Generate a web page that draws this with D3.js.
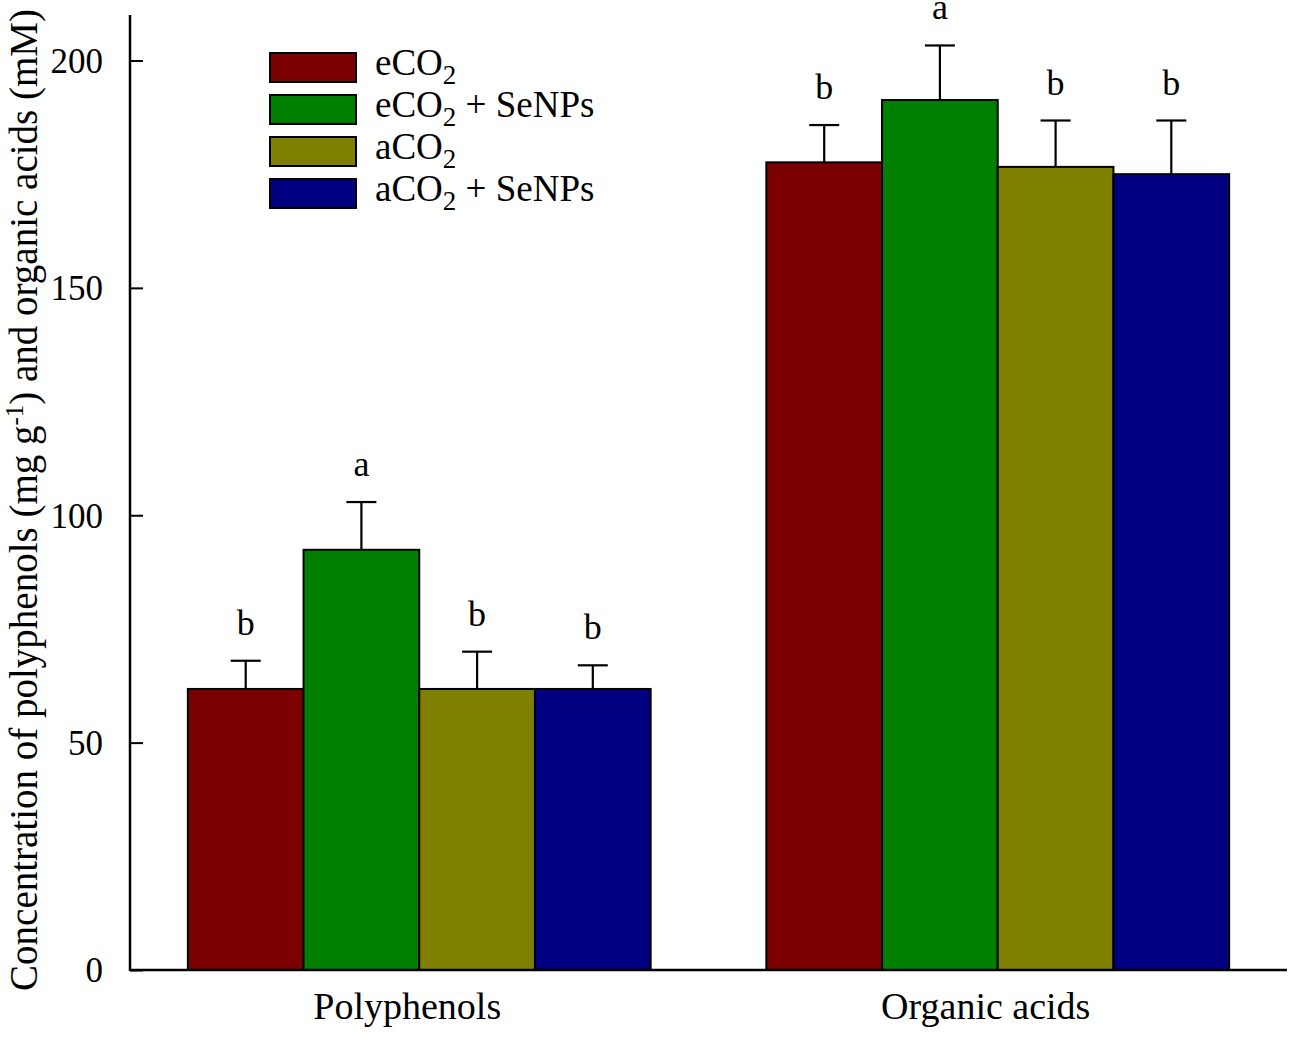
<!DOCTYPE html>
<html>
<head>
<meta charset="utf-8">
<script src="https://cdn.jsdelivr.net/npm/d3@7"></script>
<style>
  body { margin: 0; background: #fff; }
  text { font-family: "Liberation Serif", "Times New Roman", serif; fill: #000; }
</style>
</head>
<body>
<div id="visualization"></div>
<script>
// data
const groups = ['Polyphenols', 'Organic acids'];
const treatments = ['eCO2', 'eCO2 + SeNPs', 'aCO2', 'aCO2 + SeNPs'];
const colors = ['#7b0000', '#008000', '#808000', '#000080'];
const polyphenols = [61.8, 92.4, 61.8, 61.8];
const polyphenolsErr = [6.2, 10.5, 8.2, 5.2];
const organicAcids = [177.6, 191.3, 176.6, 175.0];
const organicAcidsErr = [8.2, 12.0, 10.2, 11.8];
const polyphenolsLetters = ['b', 'a', 'b', 'b'];
const organicAcidsLetters = ['b', 'a', 'b', 'b'];
const yTicks = [0, 50, 100, 150, 200];

const width = 1299, height = 1040;
const plotLeft = 130, plotRight = 1287, plotBottom = 970, plotTop = 15;

const svg = d3.select('#visualization')
  .append('svg')
  .attr('width', width)
  .attr('height', height);

const x0 = d3.scaleBand().domain(groups).range([plotLeft, plotRight])
  .paddingInner(0.2).paddingOuter(0.1);
const x1 = d3.scaleBand().domain(treatments).range([0, x0.bandwidth()]);
const y = d3.scaleLinear().domain([0, 210]).range([plotBottom, plotTop]);

const rows = [
  { group: groups[0], values: polyphenols, errs: polyphenolsErr, letters: polyphenolsLetters },
  { group: groups[1], values: organicAcids, errs: organicAcidsErr, letters: organicAcidsLetters }
];

rows.forEach(row => {
  const g = svg.append('g').attr('transform', `translate(${x0(row.group)},0)`);
  const d = treatments.map((t, i) => ({ t, i, v: row.values[i], e: row.errs[i], l: row.letters[i] }));

  // error bars (upper only) drawn first so the bar outline covers the base
  g.selectAll('.err')
    .data(d).join('line')
    .attr('class', 'err')
    .attr('x1', k => x1(k.t) + x1.bandwidth() / 2)
    .attr('x2', k => x1(k.t) + x1.bandwidth() / 2)
    .attr('y1', k => y(k.v))
    .attr('y2', k => y(k.v + k.e))
    .attr('stroke', '#000').attr('stroke-width', 2.2);
  g.selectAll('.cap')
    .data(d).join('line')
    .attr('class', 'cap')
    .attr('x1', k => x1(k.t) + x1.bandwidth() / 2 - 15)
    .attr('x2', k => x1(k.t) + x1.bandwidth() / 2 + 15)
    .attr('y1', k => y(k.v + k.e))
    .attr('y2', k => y(k.v + k.e))
    .attr('stroke', '#000').attr('stroke-width', 2.2);

  g.selectAll('rect')
    .data(d).join('rect')
    .attr('x', k => x1(k.t))
    .attr('y', k => y(k.v))
    .attr('width', x1.bandwidth())
    .attr('height', k => y(0) - y(k.v))
    .attr('fill', k => colors[k.i])
    .attr('stroke', '#000').attr('stroke-width', 2);

  // significance letters
  g.selectAll('.letter')
    .data(d).join('text')
    .attr('class', 'letter')
    .attr('x', k => x1(k.t) + x1.bandwidth() / 2)
    .attr('y', k => y(k.v + k.e) - 26)
    .attr('text-anchor', 'middle')
    .attr('font-size', 36)
    .text(k => k.l);
});

// y axis with inward ticks
const yAxis = svg.append('g')
  .attr('transform', `translate(${plotLeft},0)`)
  .call(d3.axisRight(y).tickValues(yTicks).tickSize(13).tickFormat(d3.format('d')));
yAxis.select('.domain').remove();
yAxis.selectAll('line').attr('stroke', '#000').attr('stroke-width', 2);
yAxis.selectAll('text')
  .attr('x', -27).attr('text-anchor', 'end')
  .attr('font-size', 35).attr('dy', '0.34em')
  .style('font-family', '"Liberation Serif", serif');

svg.append('line')
  .attr('x1', plotLeft).attr('x2', plotLeft)
  .attr('y1', plotBottom + 1).attr('y2', plotTop)
  .attr('stroke', '#000').attr('stroke-width', 2.5);
svg.append('line')
  .attr('x1', plotLeft).attr('x2', plotRight)
  .attr('y1', plotBottom).attr('y2', plotBottom)
  .attr('stroke', '#000').attr('stroke-width', 2.5);

// x labels
svg.selectAll('.xlab')
  .data(groups).join('text')
  .attr('class', 'xlab')
  .attr('x', g => x0(g) + x0.bandwidth() / 2 - 12)
  .attr('y', 1019)
  .attr('text-anchor', 'middle')
  .attr('font-size', 38)
  .text(g => g);

// y title
const yt = svg.append('text')
  .attr('transform', 'translate(37,500) rotate(-90)')
  .attr('text-anchor', 'middle')
  .attr('font-size', 39);
yt.append('tspan').text('Concentration of polyphenols (mg g');
yt.append('tspan').attr('dy', -14).attr('font-size', 25).text('-1');
yt.append('tspan').attr('dy', 14).text(') and organic acids (mM)');

// legend
const legend = svg.append('g').attr('transform', 'translate(270,53)');
treatments.forEach((t, i) => {
  const row = legend.append('g').attr('transform', `translate(0,${i * 42})`);
  row.append('rect')
    .attr('width', 86).attr('height', 29)
    .attr('fill', colors[i]).attr('stroke', '#000').attr('stroke-width', 2);
  const txt = row.append('text').attr('x', 105).attr('y', 22).attr('font-size', 37);
  const parts = t.split('2');
  txt.append('tspan').text(parts[0]);
  txt.append('tspan').attr('dy', 9).attr('font-size', 27).text('2');
  txt.append('tspan').attr('dy', -9).text(parts[1]);
});
</script>
</body>
</html>
